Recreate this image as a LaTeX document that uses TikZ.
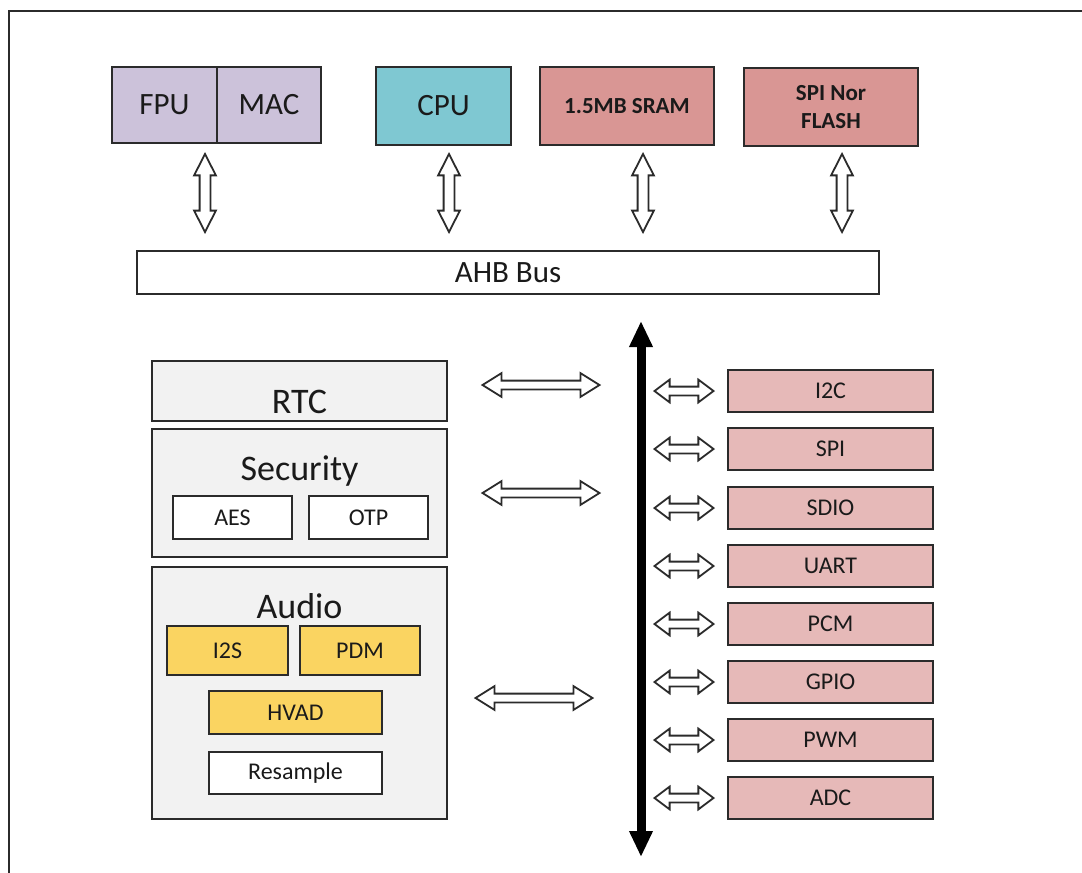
\documentclass[tikz,border=0pt]{standalone}
\usepackage{fontspec}
\setmainfont{Carlito}
\usetikzlibrary{shapes.arrows,arrows.meta}
\definecolor{edge}{HTML}{2B2B2B}
\definecolor{txt}{HTML}{1A1A1A}
\definecolor{lav}{HTML}{CCC2DA}
\definecolor{teal}{HTML}{7FC8D2}
\definecolor{rose}{HTML}{D99694}
\definecolor{pink}{HTML}{E6B9B8}
\definecolor{grey}{HTML}{F2F2F2}
\definecolor{gold}{HTML}{FAD461}
\begin{document}
\begin{tikzpicture}[x=1pt,y=-1pt,
  box/.style={draw=edge, line width=2pt, inner sep=0pt, text=txt, align=center},
  f24/.style={font=\fontsize{24}{28}\selectfont},
  f31/.style={font=\fontsize{31}{36}\selectfont},
  fb/.style={font=\fontsize{23}{28}\selectfont\bfseries},
  title/.style={text=txt, inner sep=0pt, anchor=base, font=\fontsize{36}{40}\selectfont},
  harrow/.style={shape=double arrow, draw=edge, fill=white, line width=1.8pt,
    inner xsep=0pt, inner ysep=3.5pt, double arrow head extend=7.5pt,
    double arrow tip angle=64, minimum height=117pt},
  varrow/.style={shape=double arrow, draw=edge, fill=white, line width=1.8pt,
    inner xsep=0pt, inner ysep=4.5pt, double arrow head extend=5.5pt,
    double arrow tip angle=54, minimum height=78pt, rotate=90},
  sarrow/.style={shape=double arrow, draw=edge, fill=white, line width=1.8pt,
    inner xsep=0pt, inner ysep=3.5pt, double arrow head extend=7pt,
    double arrow tip angle=74, minimum height=59pt},
  periph/.style={box, fill=pink, f24, minimum width=205pt, minimum height=42pt}
]
\useasboundingbox (0,0) rectangle (1082,873);
\fill[white] (0,0) rectangle (1082,873);
% frame
\draw[edge, line width=2.5pt] (1082,11) -- (9,11) -- (9,873);

% top row
\node[box, fill=lav, f31, minimum width=105pt, minimum height=76pt] (fpu) at (164.5,105) {FPU};
\node[box, fill=lav, f31, minimum width=104pt, minimum height=76pt] (mac) at (269,105) {MAC};
\node[box, fill=teal, f31, minimum width=135pt, minimum height=78pt] (cpu) at (443.5,106) {CPU};
\node[box, fill=rose, fb, minimum width=174pt, minimum height=78pt] (sram) at (627,106) {1.5MB SRAM};
\node[box, fill=rose, fb, minimum width=174pt, minimum height=78pt] (flash) at (831,107) {SPI Nor\\FLASH};

% AHB bus
\node[box, fill=white, f31, minimum width=742pt, minimum height=43pt] (ahb) at (508,272.5) {AHB Bus};

% vertical hollow arrows
\node[varrow] (a1) at (205,193) {};
\node[varrow] (a2) at (449,193) {};
\node[varrow] (a3) at (643,193) {};
\node[varrow] (a4) at (842,193) {};

% left blocks
\node[box, fill=grey, minimum width=295pt, minimum height=60pt] (rtc) at (299.5,391) {};
\node[title] (rtcl) at (299.5,413) {RTC};
\node[box, fill=grey, minimum width=295pt, minimum height=128pt] (sec) at (299.5,493) {};
\node[title] (secl) at (299.5,480) {Security};
\node[box, fill=white, f24, minimum width=119pt, minimum height=43pt] (aes) at (232.5,517.5) {AES};
\node[box, fill=white, f24, minimum width=119pt, minimum height=43pt] (otp) at (368.5,517.5) {OTP};
\node[box, fill=grey, minimum width=295pt, minimum height=252pt] (audio) at (299.5,693) {};
\node[title] (audiol) at (299.5,618) {Audio};
\node[box, fill=gold, f24, minimum width=121pt, minimum height=49pt] (i2s) at (227.5,650.5) {I2S};
\node[box, fill=gold, f24, minimum width=120pt, minimum height=49pt] (pdm) at (360,650.5) {PDM};
\node[box, fill=gold, f24, minimum width=173pt, minimum height=43pt] (hvad) at (295.5,712.5) {HVAD};
\node[box, fill=white, f24, minimum width=173pt, minimum height=42pt] (resample) at (295.5,773) {Resample};

% horizontal hollow arrows
\node[harrow] (h1) at (541,385) {};
\node[harrow] (h2) at (541,493) {};
\node[harrow] (h3) at (534,698) {};

% peripheral bus (black double arrow)
\coordinate (busT) at (641,321);
\coordinate (busB) at (641,857);
\draw[line width=9pt, {Triangle[length=26pt,width=22pt]}-{Triangle[length=26pt,width=22pt]}] (busB) -- (busT);

% peripherals
\foreach \nm/\lab/\yy in {i2c/I2C/391, spi/SPI/449, sdio/SDIO/508, uart/UART/566, pcm/PCM/624, gpio/GPIO/682, pwm/PWM/740, adc/ADC/798}{
  \node[periph] (\nm) at (830.5,\yy) {\lab};
  \node[sarrow] (s\nm) at (684,\yy) {};
}
\end{tikzpicture}
\end{document}
